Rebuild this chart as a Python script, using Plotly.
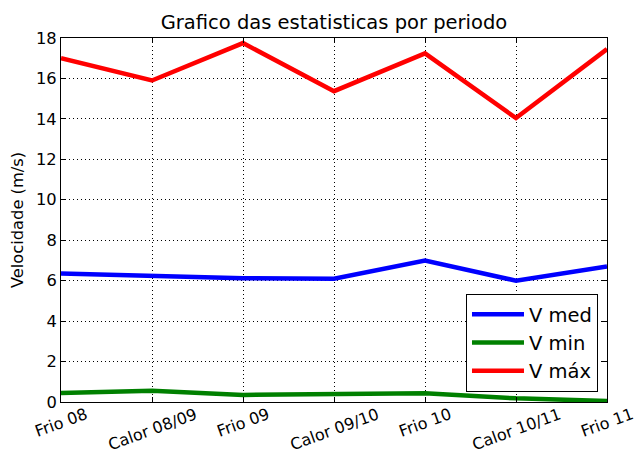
import plotly.graph_objects as go

periods = ["Frio 08", "Calor 08/09", "Frio 09", "Calor 09/10", "Frio 10", "Calor 10/11", "Frio 11"]
v_med = [6.35, 6.26, 6.12, 6.1, 7.0, 6.0, 6.7]
v_min = [0.44, 0.56, 0.35, 0.40, 0.43, 0.18, 0.05]
v_max = [17.0, 15.9, 17.75, 15.37, 17.24, 14.04, 17.45]
y_ticks = [0, 2, 4, 6, 8, 10, 12, 14, 16, 18]

FONT = "DejaVu Sans"
fig = go.Figure()
fig.add_trace(go.Scatter(x=periods, y=v_med, mode="lines", name="V med", legendgroup="a",
                         line=dict(color="#0000ff", width=4.5)))
fig.add_trace(go.Scatter(x=periods, y=v_min, mode="lines", name="V min", legendgroup="b",
                         line=dict(color="#008000", width=4.5)))
fig.add_trace(go.Scatter(x=periods, y=v_max, mode="lines", name="V máx", legendgroup="c",
                         line=dict(color="#ff0000", width=4.5)))

axis_common = dict(
    showline=True, linecolor="black", linewidth=1, mirror="ticks",
    ticks="inside", ticklen=5, tickcolor="black",
    showgrid=True, gridcolor="black", griddash="1px,3px", gridwidth=1,
    zeroline=False, tickfont=dict(size=16.3, color="black", family=FONT), automargin=False,
)

# x tick labels: centred under each tick and rotated, like the original
for p in periods:
    fig.add_annotation(x=p, xref="x", y=0, yref="paper", yanchor="top", xanchor="center",
                       text=p, textangle=-20, showarrow=False, yshift=-1, borderpad=0,
                       font=dict(size=16, color="black", family=FONT))

fig.update_layout(
    width=636, height=453,
    margin=dict(l=61, r=29, t=38, b=51),
    paper_bgcolor="white", plot_bgcolor="white",
    font=dict(family=FONT, color="black"),
    title=dict(text="Grafico das estatisticas por periodo", x=334 / 636, xanchor="center",
               y=1 - 22 / 453, yanchor="middle", font=dict(size=19.5, color="black")),
    xaxis=dict(type="category", range=[0, 6], showticklabels=False, **axis_common),
    yaxis=dict(range=[0, 18], tickvals=y_ticks,
               title=dict(text="Velocidade (m/s)", font=dict(size=16.3), standoff=8), **axis_common),
    legend=dict(x=0.9835, y=0.0275, xanchor="right", yanchor="bottom", bordercolor="black", borderwidth=1,
                bgcolor="white", font=dict(size=19.5), tracegroupgap=0, itemwidth=52),
    showlegend=True,
)

fig.write_html("out.html", config={"displayModeBar": False},
               post_script="document.body.style.margin='0px';")
